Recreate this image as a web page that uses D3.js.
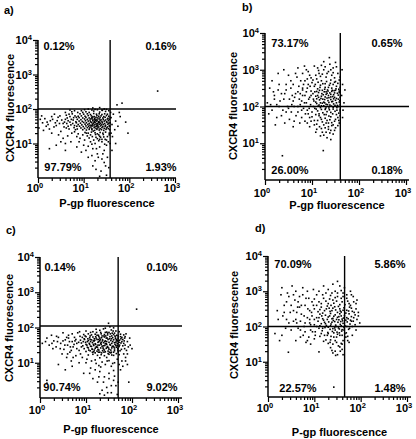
<!DOCTYPE html>
<html><head><meta charset="utf-8">
<script src="https://cdn.jsdelivr.net/npm/d3@7"></script>
<style>body{margin:0;background:#fff}text{font-family:Arial,"Liberation Sans",sans-serif;font-weight:bold;fill:#000}</style>
</head><body>
<script>
// Events as [log10 P-gp fluorescence, log10 CXCR4 fluorescence]
const eventsA = [[1.05,1.92],[1.22,1.94],[1.35,1.91],[1.48,1.93],[1.12,1.9],[1.41,1.96],[0.98,1.9],
[1.0,1.85],[1.08,1.86],[1.15,1.84],[1.22,1.87],[1.28,1.85],[1.34,1.86],[1.4,1.84],[1.46,1.86],[1.52,1.85],[0.92,1.86],
[0.95,1.8],[1.03,1.79],[1.1,1.81],[1.17,1.8],[1.23,1.78],[1.29,1.81],[1.33,1.79],[1.38,1.8],[1.44,1.78],[1.5,1.81],[1.55,1.79],[0.88,1.79],
[0.9,1.75],[0.98,1.74],[1.05,1.76],[1.12,1.74],[1.18,1.75],[1.24,1.73],[1.27,1.76],[1.31,1.74],[1.36,1.75],[1.42,1.74],[1.47,1.76],[1.53,1.73],[1.2,1.77],
[0.86,1.7],[0.94,1.69],[1.02,1.71],[1.08,1.7],[1.14,1.68],[1.19,1.71],[1.23,1.69],[1.27,1.7],[1.3,1.68],[1.34,1.71],[1.38,1.69],[1.43,1.7],[1.48,1.68],[1.52,1.71],[1.56,1.7],[1.16,1.72],
[0.9,1.65],[0.97,1.64],[1.04,1.66],[1.1,1.65],[1.15,1.63],[1.2,1.66],[1.24,1.64],[1.28,1.65],[1.32,1.63],[1.36,1.66],[1.4,1.64],[1.45,1.65],[1.5,1.63],[1.54,1.66],[1.26,1.67],[1.34,1.62],
[0.84,1.6],[0.93,1.59],[1.0,1.61],[1.06,1.6],[1.12,1.58],[1.17,1.61],[1.21,1.59],[1.25,1.6],[1.29,1.58],[1.33,1.61],[1.37,1.59],[1.41,1.6],[1.46,1.58],[1.51,1.61],[1.55,1.59],[1.23,1.62],[1.31,1.57],
[0.88,1.55],[0.96,1.54],[1.03,1.56],[1.09,1.55],[1.14,1.53],[1.19,1.56],[1.23,1.54],[1.27,1.55],[1.31,1.53],[1.35,1.56],[1.39,1.54],[1.43,1.55],[1.48,1.53],[1.53,1.56],[1.29,1.51],[1.17,1.52],
[0.91,1.5],[0.99,1.49],[1.05,1.51],[1.11,1.5],[1.16,1.48],[1.2,1.51],[1.25,1.49],[1.29,1.5],[1.33,1.48],[1.37,1.51],[1.42,1.49],[1.47,1.5],[1.52,1.48],[1.56,1.51],
[0.94,1.45],[1.02,1.44],[1.08,1.46],[1.13,1.45],[1.18,1.43],[1.23,1.46],[1.27,1.44],[1.31,1.45],[1.36,1.43],[1.4,1.46],[1.45,1.44],[1.5,1.45],[1.54,1.43],
[0.98,1.4],[1.06,1.39],[1.12,1.41],[1.18,1.4],[1.24,1.38],[1.29,1.41],[1.34,1.39],[1.39,1.4],[1.44,1.38],[1.49,1.41],[1.21,1.36],
[1.03,1.32],[1.1,1.3],[1.17,1.33],[1.25,1.31],[1.3,1.28],[1.36,1.32],[1.42,1.3],[1.48,1.33],[1.33,1.25],
[1.08,1.22],[1.19,1.2],[1.27,1.18],[1.35,1.21],[1.44,1.19],[1.3,1.14],[1.4,1.12],
[0.1,1.6],[0.15,1.72],[0.22,1.55],[0.3,1.78],[0.35,1.48],[0.42,1.66],[0.48,1.8],[0.5,1.35],[0.55,1.58],[0.6,1.7],[0.62,1.45],[0.68,1.85],[0.7,1.62],[0.74,1.3],[0.78,1.75],[0.8,1.52],[0.82,1.4],[0.76,1.58],[0.66,1.5],[0.58,1.62],[0.45,1.25],[0.38,1.6],[0.27,1.66],[0.18,1.5],[0.05,1.7],[0.12,1.38],[0.55,1.15],[0.65,1.22],[0.85,1.2],[0.72,1.05],
[0.4,0.95],[0.6,0.8],[0.9,1.05],[1.0,0.95],[1.15,1.05],[1.2,0.85],[1.25,1.0],[1.3,0.7],[1.35,0.9],[1.4,1.05],[1.45,0.8],[1.5,0.95],[1.52,0.6],[1.45,0.45],[1.55,0.3],[1.38,0.2],[1.1,0.6],[0.95,0.75],[1.25,0.5],[1.5,1.1],[1.4,0.55],[1.2,0.35],[1.35,0.05],[1.5,0.08],
[0.8,1.95],[1.1,2.0],[1.3,1.98],[1.5,1.99],[0.6,1.9],[1.45,2.0],[1.35,2.04],
[1.6,1.75],[1.62,1.55],[1.65,1.85],[1.68,1.4],[1.7,1.65],[1.75,1.5],[1.8,1.78],[1.97,1.3],[1.92,1.62],[1.78,1.9],[1.63,1.2],[1.7,1.0],[1.58,1.0],[1.62,0.8],
[1.73,2.12],[1.84,2.17],[2.62,2.52],
[0.62,1.82],[0.66,1.66],[0.7,1.78],[0.72,1.54],[0.75,1.86],[0.77,1.68],[0.79,1.46],[0.81,1.8],[0.83,1.63],[0.85,1.5],[0.87,1.9],[0.63,1.58],[0.68,1.42],[0.73,1.7],[0.8,1.34],[0.84,1.76],[0.86,1.42],[0.88,1.28],[0.74,1.92],[0.64,1.74],
[0.92,1.15],[0.98,1.25],[1.02,1.1],[1.06,1.3],[1.12,1.16],[1.15,1.25],[1.22,1.1],[1.26,1.26],[1.33,1.08],[1.37,1.18],[1.43,1.26],[1.47,1.12],[1.52,1.2],[1.56,1.3],[1.54,1.05],[1.18,0.98],[1.28,0.85],[1.35,1.12],[1.46,0.98],[1.1,0.92],[1.32,0.6],[1.42,0.7],[1.48,0.35],[1.27,0.25],[1.18,0.65],[1.05,0.8],[0.85,0.9],
[1.57,1.4],[1.58,1.6],[1.59,1.9],[1.56,1.25],[1.58,1.75],[1.57,1.5],[1.6,1.3],
[0.02,1.45],[0.08,1.8],[0.2,1.62],[0.25,1.42],[0.32,1.7],[0.4,1.52],[0.44,1.76],[0.52,1.68],[0.57,1.48],[0.47,1.58],[0.36,1.85],[0.3,1.3],[0.5,1.05],[0.25,0.85],[0.6,1.0],
[0.95,1.95],[1.02,1.98],[1.18,1.97],[1.25,1.99],[1.4,1.97],[1.55,1.95],[0.7,1.97],[1.2,2.03]];

const eventsB = [[1.0,2.65],[1.1,2.75],[1.2,2.7],[1.3,2.8],[1.4,2.72],[1.5,2.68],[1.15,2.9],[1.35,2.95],[1.45,3.05],[1.25,3.0],[0.95,2.85],[1.05,3.1],[1.55,2.9],[1.38,3.15],[1.6,2.8],[0.85,2.7],[1.28,2.62],[1.42,2.85],[1.18,2.82],
[0.9,2.5],[0.98,2.42],[1.05,2.55],[1.12,2.48],[1.18,2.58],[1.22,2.44],[1.28,2.52],[1.33,2.45],[1.37,2.58],[1.42,2.5],[1.47,2.43],[1.52,2.55],[1.57,2.47],[1.1,2.41],[1.3,2.4],[1.45,2.6],[0.8,2.45],[1.6,2.52],
[0.85,2.3],[0.95,2.25],[1.02,2.35],[1.08,2.28],[1.14,2.38],[1.19,2.22],[1.24,2.32],[1.28,2.26],[1.32,2.36],[1.36,2.24],[1.4,2.33],[1.44,2.27],[1.48,2.37],[1.52,2.22],[1.56,2.31],[1.6,2.25],[1.2,2.28],[1.35,2.3],[1.1,2.21],[0.75,2.35],[1.46,2.21],
[0.88,2.1],[0.97,2.05],[1.04,2.15],[1.1,2.08],[1.16,2.18],[1.2,2.02],[1.25,2.12],[1.3,2.06],[1.34,2.16],[1.38,2.04],[1.42,2.13],[1.46,2.07],[1.5,2.17],[1.54,2.03],[1.58,2.12],[1.27,2.19],[1.4,2.19],[1.13,2.01],[0.78,2.15],[1.6,2.05],[1.22,2.09],
[0.9,1.9],[1.0,1.85],[1.06,1.95],[1.12,1.88],[1.18,1.97],[1.23,1.83],[1.28,1.92],[1.32,1.86],[1.36,1.96],[1.4,1.84],[1.45,1.93],[1.49,1.87],[1.53,1.97],[1.57,1.82],[1.3,1.99],[1.15,1.8],[0.82,1.95],[1.6,1.92],
[0.95,1.7],[1.05,1.62],[1.15,1.75],[1.22,1.58],[1.28,1.68],[1.35,1.55],[1.4,1.72],[1.48,1.6],[1.55,1.7],[1.1,1.52],[1.3,1.78],[1.45,1.5],[0.85,1.6],[1.2,1.65],[1.58,1.55],[1.38,1.64],
[1.2,1.4],[1.3,1.3],[1.35,1.45],[1.25,1.22],[1.4,1.35],[1.1,1.38],[1.5,1.42],[1.32,1.15],[1.45,1.25],[0.37,0.66],[1.24,0.8],
[0.05,2.1],[0.1,2.5],[0.15,1.9],[0.2,2.3],[0.25,2.05],[0.3,2.6],[0.35,1.75],[0.4,2.2],[0.45,2.45],[0.5,1.95],[0.55,2.7],[0.6,2.15],[0.62,1.6],[0.65,2.35],[0.7,1.85],[0.72,2.55],[0.75,2.05],[0.68,2.8],[0.58,2.3],[0.48,2.0],[0.42,1.55],[0.32,2.15],[0.22,1.5],[0.12,2.05],[0.28,2.9],[0.5,2.85],[0.8,2.9],[0.88,3.0],[0.7,3.05],[0.4,3.0],[0.2,2.2],[0.6,1.45],[0.78,1.7],[0.35,2.35],[0.15,2.7],[0.55,2.5],[0.92,2.6],[0.9,1.55],[0.62,2.0],[0.45,1.85],
[1.63,2.3],[1.65,2.6],[1.68,2.1],[1.66,1.9],[1.7,2.45],[1.64,3.0],[1.65,1.7],[1.5,3.2],[1.25,3.22],[1.37,3.33],
[1.07,2.6],[1.13,2.66],[1.17,2.52],[1.23,2.62],[1.27,2.47],[1.31,2.68],[1.35,2.52],[1.39,2.63],[1.43,2.44],[1.48,2.66],[1.51,2.48],[1.55,2.63],[1.58,2.38],
[1.06,2.4],[1.12,2.3],[1.16,2.44],[1.21,2.35],[1.26,2.4],[1.3,2.33],[1.34,2.42],[1.38,2.37],[1.42,2.41],[1.46,2.32],[1.5,2.44],[1.54,2.36],[1.58,2.42],
[1.03,2.2],[1.08,2.12],[1.14,2.25],[1.18,2.1],[1.23,2.2],[1.27,2.1],[1.32,2.23],[1.36,2.11],[1.4,2.26],[1.44,2.14],[1.48,2.25],[1.52,2.1],[1.56,2.2],[1.59,2.16],
[1.03,2.0],[1.09,1.93],[1.15,2.04],[1.2,1.92],[1.25,2.02],[1.29,1.95],[1.33,2.05],[1.37,1.91],[1.41,2.01],[1.45,1.98],[1.49,2.03],[1.53,1.9],[1.57,2.0],[1.6,1.88],
[0.98,2.78],[1.08,2.85],[1.14,2.98],[1.22,2.88],[1.32,2.9],[1.4,3.0],[1.48,2.78],[1.52,3.08],[1.58,2.72],[0.92,2.95],[1.02,2.72],[1.28,3.08],[1.2,3.12],[1.45,2.92],[1.12,3.05],
[0.92,1.8],[1.0,1.72],[1.08,1.78],[1.12,1.62],[1.18,1.7],[1.25,1.5],[1.26,1.78],[1.32,1.62],[1.36,1.74],[1.42,1.56],[1.44,1.8],[1.5,1.65],[1.52,1.78],[1.57,1.62],[1.6,1.75],[1.16,1.45],[1.22,1.3],[1.28,1.42],[1.38,1.28],[1.42,1.48],[1.48,1.35],[1.55,1.48],[1.3,1.55],[1.05,1.5],[0.98,1.6],[1.08,1.3],[1.18,1.2],[1.4,1.1],[0.95,1.45],[1.35,1.38],
[0.52,2.2],[0.56,1.85],[0.6,2.6],[0.63,2.25],[0.66,1.75],[0.7,2.4],[0.73,2.2],[0.76,2.7],[0.78,1.9],[0.8,2.3],[0.82,2.6],[0.84,2.1],[0.86,1.8],[0.88,2.4],[0.9,2.75],[0.93,2.2],[0.96,2.55],[0.94,1.95],[0.98,2.3],[0.7,2.0],[0.57,2.05],[0.65,2.9],[0.8,2.5],[0.84,3.1],[0.74,1.55],[0.52,1.65],[0.45,2.6],[0.38,1.9],[0.28,2.45],[0.25,1.7],[0.18,2.4],[0.08,1.8],[0.3,2.0],[0.42,2.35]];

const eventsC = [[1.0,1.9],[1.15,1.88],[1.3,1.92],[1.45,1.87],[1.55,1.93],[1.65,1.9],[1.22,1.95],[1.38,1.96],[1.72,1.88],
[0.95,1.8],[1.05,1.82],[1.12,1.79],[1.2,1.81],[1.27,1.78],[1.33,1.82],[1.4,1.8],[1.47,1.79],[1.53,1.82],[1.6,1.8],[1.67,1.78],[1.75,1.81],[1.82,1.79],
[0.92,1.72],[1.0,1.74],[1.08,1.71],[1.15,1.73],[1.22,1.7],[1.28,1.74],[1.34,1.71],[1.4,1.73],[1.46,1.7],[1.52,1.74],[1.58,1.71],[1.64,1.73],[1.7,1.7],[1.78,1.72],[1.85,1.74],
[0.88,1.64],[0.97,1.66],[1.05,1.63],[1.12,1.65],[1.18,1.62],[1.24,1.66],[1.3,1.63],[1.36,1.65],[1.42,1.62],[1.48,1.66],[1.54,1.63],[1.6,1.65],[1.66,1.62],[1.73,1.64],[1.8,1.66],
[0.9,1.56],[0.99,1.58],[1.07,1.55],[1.14,1.57],[1.2,1.54],[1.26,1.58],[1.32,1.55],[1.38,1.57],[1.44,1.54],[1.5,1.58],[1.56,1.55],[1.62,1.57],[1.68,1.54],[1.76,1.56],[1.28,1.6],[1.41,1.6],
[0.93,1.48],[1.02,1.5],[1.1,1.47],[1.17,1.49],[1.23,1.46],[1.29,1.5],[1.35,1.47],[1.41,1.49],[1.47,1.46],[1.53,1.5],[1.59,1.47],[1.65,1.49],[1.72,1.46],[1.8,1.48],
[0.96,1.4],[1.05,1.42],[1.13,1.39],[1.2,1.41],[1.26,1.38],[1.32,1.42],[1.38,1.39],[1.44,1.41],[1.5,1.38],[1.56,1.42],[1.62,1.39],[1.69,1.41],[1.77,1.38],
[1.0,1.32],[1.09,1.34],[1.17,1.31],[1.24,1.33],[1.3,1.3],[1.36,1.34],[1.42,1.31],[1.48,1.33],[1.55,1.3],[1.62,1.34],[1.7,1.31],
[1.05,1.22],[1.15,1.24],[1.25,1.21],[1.33,1.23],[1.4,1.2],[1.5,1.24],[1.6,1.21],[1.72,1.23],[1.45,1.15],[1.3,1.14],
[1.2,1.08],[1.35,1.02],[1.5,1.06],[1.62,1.0],[1.42,0.95],[1.55,0.9],[1.28,0.92],
[1.0,1.0],[1.1,0.85],[1.3,0.75],[1.4,0.6],[1.5,0.7],[1.6,0.5],[1.25,0.45],[1.45,0.3],[1.35,0.22],[1.55,0.15],[1.65,0.35],[0.95,0.7],[1.15,0.55],[1.75,0.8],[1.68,0.1],[1.4,0.08],
[0.05,1.55],[0.15,1.7],[0.2,1.5],[0.25,1.78],[0.3,1.62],[0.35,1.45],[0.4,1.72],[0.45,1.55],[0.5,1.85],[0.52,1.38],[0.55,1.65],[0.6,1.5],[0.62,1.78],[0.65,1.3],[0.7,1.6],[0.72,1.45],[0.75,1.72],[0.78,1.2],[0.8,1.55],[0.82,1.85],[0.85,1.35],[0.68,1.05],[0.58,1.15],[0.48,1.25],[0.38,1.6],[0.28,1.4],[0.4,0.95],[0.55,0.8],[0.7,0.9],[0.85,1.0],[0.62,1.7],[0.76,1.62],[0.66,1.45],[0.87,1.75],[0.15,0.5],[0.15,0.42],
[1.85,1.5],[1.9,1.6],[1.88,1.35],[1.82,1.25],[1.92,1.45],[1.78,1.05],[1.86,1.15],[1.95,1.7],[1.8,0.9],[1.93,0.45],
[1.52,2.02],[1.6,1.99],[1.42,1.98],[1.49,2.12],[2.1,2.52],
[0.98,1.76],[1.04,1.68],[1.1,1.6],[1.16,1.52],[1.22,1.44],[1.28,1.36],[1.34,1.28],[1.4,1.36],[1.46,1.44],[1.52,1.52],[1.58,1.6],[1.64,1.68],[1.7,1.76],[1.76,1.68],[1.72,1.58],[1.66,1.44],[1.6,1.3],[1.54,1.36],[1.48,1.26],[1.42,1.54],[1.36,1.62],[1.3,1.7],[1.24,1.78],[1.18,1.68],[1.12,1.46],[1.06,1.36],[1.0,1.52],[0.94,1.6],[1.2,1.28],[1.26,1.5],[1.38,1.48],[1.44,1.7],[1.5,1.86],[1.56,1.76],[1.62,1.84],[1.68,1.48],[1.74,1.34],[1.78,1.6],[1.82,1.55],[1.84,1.4],[1.32,1.86],[1.1,1.86],[1.14,1.3],[1.56,1.22],[1.66,1.26],
[0.96,1.68],[1.03,1.6],[1.09,1.76],[1.16,1.62],[1.21,1.74],[1.27,1.66],[1.33,1.58],[1.39,1.76],[1.45,1.6],[1.51,1.68],[1.57,1.84],[1.63,1.52],[1.69,1.62],[1.75,1.74],[1.08,1.52],[1.14,1.38],[1.19,1.64],[1.25,1.44],[1.31,1.66],[1.37,1.42],[1.43,1.76],[1.49,1.42],[1.55,1.68],[1.61,1.44],[1.67,1.66],[1.73,1.5],[1.03,1.44],[1.09,1.66],[1.21,1.52],[1.27,1.3],[1.33,1.52],[1.39,1.3],[1.45,1.52],[1.51,1.3],[1.57,1.46],[1.63,1.76],[1.69,1.36],[1.35,1.76],[1.47,1.84],[1.23,1.86],[1.59,1.9],[1.18,1.36],[1.42,1.86],[1.54,1.28],[1.65,1.58],
[0.7,1.82],[0.74,1.52],[0.78,1.66],[0.8,1.4],[0.84,1.58],[0.86,1.88],[0.88,1.25],[0.9,1.45],[0.92,1.15],[0.68,1.35],[0.64,1.6],[0.58,1.72],[0.54,1.5],[0.5,1.62],[0.44,1.4],[0.36,1.75],[0.26,1.55],[0.12,1.6],[0.6,1.25],[0.72,1.15],
[1.02,1.1],[1.12,1.05],[1.22,0.98],[1.32,0.88],[1.46,1.05],[1.58,0.98],[1.68,1.1],[1.72,0.95],[1.6,0.78],[1.5,0.55],[1.38,0.45],[1.28,0.6],[1.2,0.8],[1.08,0.7],[1.62,0.62],[1.7,0.45],[1.55,0.35],[1.47,0.15],[1.3,0.12],
[1.84,1.7],[1.87,1.82],[1.9,1.25],[1.96,1.5],[2.0,1.4],[1.86,1.05],[1.9,0.95],[1.83,1.62]];

const eventsD = [[1.1,2.7],[1.2,2.8],[1.3,2.65],[1.4,2.75],[1.5,2.85],[1.6,2.7],[1.7,2.8],[1.25,2.95],[1.45,3.0],[1.62,2.95],[1.75,2.65],[1.35,2.88],[1.55,2.62],[1.05,2.9],[1.8,2.9],
[1.0,2.5],[1.08,2.42],[1.15,2.55],[1.22,2.45],[1.28,2.58],[1.34,2.43],[1.4,2.52],[1.46,2.47],[1.52,2.57],[1.58,2.41],[1.64,2.53],[1.7,2.46],[1.76,2.55],[1.82,2.43],[1.36,2.6],[1.55,2.5],
[0.95,2.3],[1.05,2.25],[1.12,2.35],[1.18,2.22],[1.24,2.32],[1.3,2.27],[1.35,2.37],[1.4,2.23],[1.45,2.33],[1.5,2.26],[1.55,2.36],[1.6,2.21],[1.65,2.31],[1.7,2.25],[1.75,2.36],[1.8,2.28],[1.88,2.33],[1.42,2.29],[1.58,2.3],
[0.9,2.1],[1.0,2.05],[1.08,2.15],[1.15,2.08],[1.2,2.18],[1.26,2.03],[1.31,2.13],[1.36,2.07],[1.41,2.17],[1.46,2.04],[1.51,2.12],[1.56,2.06],[1.61,2.16],[1.66,2.02],[1.71,2.13],[1.77,2.07],[1.84,2.15],[1.38,2.12],[1.53,2.19],[1.62,2.09],
[0.92,1.9],[1.02,1.85],[1.1,1.95],[1.17,1.88],[1.23,1.97],[1.29,1.83],[1.34,1.92],[1.39,1.86],[1.44,1.96],[1.49,1.84],[1.54,1.93],[1.59,1.87],[1.64,1.97],[1.69,1.82],[1.74,1.92],[1.45,1.9],[1.6,1.91],
[1.0,1.65],[1.12,1.72],[1.2,1.58],[1.28,1.75],[1.35,1.62],[1.42,1.7],[1.48,1.55],[1.55,1.75],[1.62,1.6],[1.68,1.7],[1.4,1.5],[1.3,1.52],[1.58,1.52],[1.5,1.78],[1.72,1.6],
[1.35,1.4],[1.45,1.3],[1.55,1.42],[1.5,1.2],[1.6,1.35],[1.4,1.25],[1.62,1.2],[0.44,1.27],[1.1,1.28],[1.42,0.28],
[0.3,3.1],[0.35,2.6],[0.4,2.2],[0.45,2.85],[0.5,1.9],[0.55,2.45],[0.6,3.0],[0.62,2.1],[0.65,2.7],[0.7,1.7],[0.72,2.35],[0.75,2.9],[0.78,2.0],[0.8,2.6],[0.82,1.55],[0.85,2.25],[0.88,2.8],[0.9,2.45],[0.68,2.55],[0.58,2.75],[0.48,2.4],[0.38,1.95],[0.2,2.45],[0.25,1.6],[0.15,1.8],[0.32,2.3],[0.52,3.15],[0.75,3.1],[0.95,2.7],[0.98,3.05],[0.85,3.0],[0.65,1.95],[0.42,2.95],[0.55,2.15],[0.7,2.15],[0.8,1.85],[0.6,1.6],[0.92,2.05],[0.88,1.7],
[1.9,2.5],[1.92,2.2],[1.85,2.7],[1.95,2.4],[1.78,3.0],[1.9,1.9],[1.82,1.75],[1.75,1.55],[1.88,2.05],
[1.55,3.15],[1.4,3.2],[1.2,3.15],[1.65,3.1],[1.5,3.28],
[1.15,2.65],[1.25,2.72],[1.33,2.78],[1.42,2.66],[1.48,2.72],[1.58,2.8],[1.66,2.62],[1.72,2.72],
[1.12,2.48],[1.18,2.38],[1.26,2.5],[1.32,2.52],[1.38,2.45],[1.44,2.56],[1.5,2.4],[1.56,2.44],[1.62,2.46],[1.68,2.38],[1.74,2.44],[1.8,2.52],
[1.1,2.25],[1.16,2.3],[1.22,2.12],[1.28,2.2],[1.33,2.3],[1.38,2.22],[1.44,2.14],[1.48,2.2],[1.53,2.28],[1.57,2.14],[1.63,2.24],[1.68,2.18],[1.73,2.22],[1.78,2.18],[1.85,2.25],
[1.05,2.0],[1.12,2.02],[1.18,1.95],[1.24,2.08],[1.3,1.98],[1.35,2.02],[1.4,1.94],[1.47,2.0],[1.52,1.96],[1.58,2.02],[1.64,1.9],[1.7,2.0],[1.76,1.95],[1.82,2.0],
[1.15,1.8],[1.22,1.75],[1.3,1.8],[1.36,1.72],[1.42,1.82],[1.48,1.7],[1.54,1.82],[1.6,1.75],[1.66,1.8],[1.72,1.72],[1.34,1.55],[1.45,1.6],[1.52,1.45],[1.6,1.5],[1.25,1.62],[1.38,1.32],[1.56,1.3],[1.46,1.18],
[1.0,2.78],[1.1,3.0],[1.3,3.05],[1.38,2.95],[1.5,2.95],[1.58,3.02],[1.7,2.9],[1.18,2.9],[1.62,2.85],[1.45,2.82],
[0.55,2.9],[0.62,2.4],[0.68,2.85],[0.72,2.6],[0.78,2.3],[0.82,2.8],[0.86,2.5],[0.9,2.2],[0.94,2.4],[0.96,1.85],[0.98,2.6],[0.7,1.9],[0.6,2.2],[0.5,2.6],[0.45,2.1],[0.4,2.7],[0.35,2.4],[0.28,2.9],[0.22,2.2],[0.3,1.75],[0.85,1.6],[0.92,1.5],[0.8,2.1],[0.64,2.55],[0.76,1.75],[1.0,2.2],[1.02,1.75],[1.05,2.6],
[1.78,2.6],[1.84,2.85],[1.9,2.65],[1.95,2.3],[1.86,2.4],[1.92,2.75],[1.8,2.15],[1.98,2.1]];

// Quadrant percentages: [upper-left, upper-right, lower-left, lower-right]
const pctA = ["0.12%","0.16%","97.79%","1.93%"];
const pctB = ["73.17%","0.65%","26.00%","0.18%"];
const pctC = ["0.14%","0.10%","90.74%","9.02%"];
const pctD = ["70.09%","5.86%","22.57%","1.48%"];
// Quadrant gates [P-gp, CXCR4]
const gateA = [38, 100];
const gateB = [40, 100];
const gateC = [50, 110];
const gateD = [45, 100];
// Axis ticks
const xTickVals = [1, 10, 100, 1000];
const yTickVals = [10, 100, 1000, 10000];
const panelLetters = ["a)", "b)", "c)", "d)"];
const xTitle = "P-gp fluorescence";
const yTitle = "CXCR4 fluorescence";

const svg = d3.select("body").append("svg").attr("width", 416).attr("height", 439);

const layouts = [
  {x0:38, x1:175, xEnd:176, y0:178, y1:40, tickY:192, titleY:207, yTitleX:10, yTitleY:108, lx:4, ly:14,
   pct:[[59,50],[161,50],[63,171],[161,171]]},
  {x0:265, x1:406, xEnd:409, y0:180, y1:33, tickY:197, titleY:209, yTitleX:233, yTitleY:106, lx:242, ly:11,
   pct:[[290,47],[387,47],[290,174],[387,174]]},
  {x0:40, x1:178, xEnd:182, y0:398, y1:257, tickY:414, titleY:433, yTitleX:9, yTitleY:328, lx:6, ly:234,
   pct:[[60,271],[162,271],[62,391],[162,391]]},
  {x0:268, x1:407, xEnd:411, y0:397, y1:256, tickY:412, titleY:436, yTitleX:234, yTitleY:325, lx:255, ly:232,
   pct:[[293,268],[390,268],[298,392],[390,392]]}
];
const dataSets = [eventsA, eventsB, eventsC, eventsD];
const pcts = [pctA, pctB, pctC, pctD];
const gates = [gateA, gateB, gateC, gateD];

const minorX = [], minorY = [];
for (let e = 0; e < 4; e++) for (let m = 2; m <= 9; m++) { const v = m * Math.pow(10, e); if (v < 1000) minorX.push(v); if (v < 10000) minorY.push(v); }

layouts.forEach((L, i) => {
  const g = svg.append("g");
  const x = d3.scaleLog().domain([1, 1000]).range([L.x0, L.x1]);
  const y = d3.scaleLog().domain([1, 10000]).range([L.y0, L.y1]);

  // dots
  g.append("g").selectAll("rect").data(dataSets[i]).join("rect")
    .attr("x", d => x(Math.pow(10, d[0])) - 0.8)
    .attr("y", d => y(Math.pow(10, d[1])) - 0.8)
    .attr("width", 1.6).attr("height", 1.6).attr("fill", "#000");

  // axes
  const ax = g.append("g").attr("transform", `translate(0,${L.y0})`);
  ax.call(d3.axisBottom(x).tickValues(xTickVals).tickSize(5).tickFormat(""));
  ax.append("g").call(d3.axisBottom(x).tickValues(minorX).tickSize(3).tickFormat(""));
  ax.selectAll(".domain").remove();
  const ay = g.append("g").attr("transform", `translate(${L.x0},0)`);
  ay.call(d3.axisLeft(y).tickValues(yTickVals).tickSize(5).tickFormat(""));
  ay.append("g").call(d3.axisLeft(y).tickValues(minorY).tickSize(3).tickFormat(""));
  ay.selectAll(".domain").remove();
  g.selectAll(".tick line").attr("stroke", "#000").attr("stroke-width", 1.2);
  g.append("line").attr("x1", L.x0).attr("x2", L.xEnd).attr("y1", L.y0).attr("y2", L.y0).attr("stroke", "#000").attr("stroke-width", 1.5);
  g.append("line").attr("x1", L.x0).attr("x2", L.x0).attr("y1", L.y0).attr("y2", L.y1).attr("stroke", "#000").attr("stroke-width", 1.5);

  // gates
  const gt = gates[i];
  g.append("line").attr("x1", x(gt[0])).attr("x2", x(gt[0])).attr("y1", L.y1).attr("y2", L.y0).attr("stroke", "#000").attr("stroke-width", 1.4);
  g.append("line").attr("x1", L.x0).attr("x2", L.xEnd).attr("y1", y(gt[1])).attr("y2", y(gt[1])).attr("stroke", "#000").attr("stroke-width", 1.4);

  // tick labels
  xTickVals.forEach(v => {
    const t = g.append("text").attr("x", x(v) - 3).attr("y", L.tickY).attr("text-anchor", "middle").attr("font-size", 11);
    t.append("tspan").text("10");
    t.append("tspan").attr("dy", -4).attr("font-size", 7.5).text(Math.round(Math.log10(v)));
  });
  yTickVals.forEach(v => {
    const t = g.append("text").attr("x", L.x0 - 6).attr("y", y(v) + 4).attr("text-anchor", "end").attr("font-size", 11);
    t.append("tspan").text("10");
    t.append("tspan").attr("dy", -4).attr("font-size", 7.5).text(Math.round(Math.log10(v)));
  });

  // titles
  g.append("text").attr("x", (L.x0 + L.xEnd) / 2).attr("y", L.titleY).attr("text-anchor", "middle").attr("font-size", 11).text(xTitle);
  g.append("text").attr("transform", `translate(${L.yTitleX + 4},${L.yTitleY}) rotate(-90)`).attr("text-anchor", "middle").attr("font-size", 11).text(yTitle);
  g.append("text").attr("x", L.lx).attr("y", L.ly).attr("font-size", 11).text(panelLetters[i]);

  // quadrant percentages
  pcts[i].forEach((p, k) => {
    g.append("text").attr("x", L.pct[k][0]).attr("y", L.pct[k][1]).attr("text-anchor", "middle").attr("font-size", 11).text(p);
  });
});
</script>
</body></html>
